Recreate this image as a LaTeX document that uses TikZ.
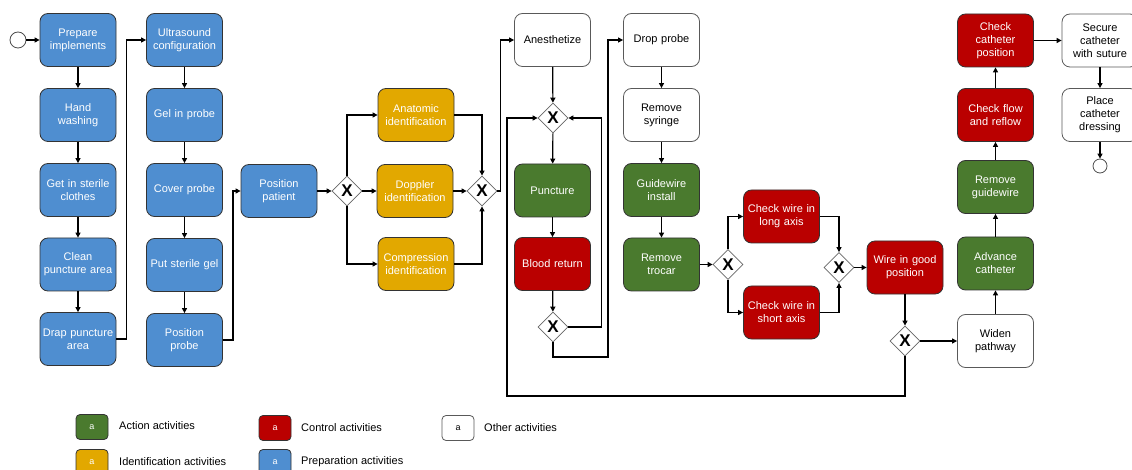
\documentclass[tikz,border=0pt]{standalone}
\usepackage{fontspec}
\setmainfont{Liberation Sans}
\usetikzlibrary{shapes.geometric,arrows.meta}
\definecolor{cblue}{RGB}{79,142,208}
\definecolor{cyel}{RGB}{226,168,0}
\definecolor{cgreen}{RGB}{74,122,46}
\definecolor{cred}{RGB}{186,0,0}
\definecolor{cborder}{RGB}{51,51,51}
\tikzset{
  act/.style={draw=cborder, line width=0.8pt, rounded corners=8pt, minimum width=76pt, minimum height=53pt,
    text width=74pt, align=center, inner sep=1pt, font=\fontsize{11}{13}\selectfont},
  prepbox/.style={act, fill=cblue, text=white},
  idbox/.style={act, fill=cyel, text=white},
  actbox/.style={act, fill=cgreen, text=white},
  ctrlbox/.style={act, fill=cred, text=white},
  othbox/.style={act, fill=white, text=black, draw=black!65},
  gate/.style={diamond, shape aspect=1, draw=black!60, fill=white, line width=0.8pt, minimum width=30pt, minimum height=30pt,
    inner sep=0pt, font=\bfseries\fontsize{17}{17}\selectfont},
  evt/.style={circle, draw=black!70, fill=white, line width=0.8pt, inner sep=0pt},
  arr/.style={line width=1.2pt, -{Triangle[length=5pt,width=5pt]}},
  legbox/.style={draw=cborder, line width=0.8pt, rounded corners=4pt, minimum width=32pt, minimum height=25pt,
    inner sep=0pt, font=\fontsize{9}{9}\selectfont},
  legtxt/.style={anchor=west, inner sep=0pt, font=\fontsize{11}{13}\selectfont}
}
\begin{document}
\begin{tikzpicture}[x=1pt, y=-1pt]
\useasboundingbox (0,0) rectangle (1132,470);
% column 1
\node[evt, minimum size=16pt] (start) at (18,40) {};
\node[prepbox] (prep) at (78,40) {Prepare\\implements};
\node[prepbox] (hand) at (78,115) {Hand\\washing};
\node[prepbox] (sterile) at (78,190) {Get in sterile\\clothes};
\node[prepbox] (clean) at (78,264.5) {Clean\\puncture area};
\node[prepbox] (drap) at (78,339) {Drap puncture\\area};
% column 2
\node[prepbox] (ultra) at (184.5,40) {Ultrasound\\configuration};
\node[prepbox] (gel) at (184.5,115) {Gel in probe};
\node[prepbox] (cover) at (184.5,190) {Cover probe};
\node[prepbox] (putgel) at (184.5,265) {Put sterile gel};
\node[prepbox] (posprobe) at (184.5,340) {Position\\probe};
% position patient and identification
\node[prepbox] (pospat) at (279,191) {Position\\patient};
\node[gate] (g1) at (347,191) {X};
\node[idbox] (anat) at (416,115) {Anatomic\\identification};
\node[idbox] (dopp) at (415,191) {Doppler\\identification};
\node[idbox] (comp) at (416,264) {Compression\\identification};
\node[gate] (g2) at (482,191) {X};
% puncture column
\node[othbox] (anest) at (552.5,40) {Anesthetize};
\node[gate] (g3) at (553,118) {X};
\node[actbox] (punct) at (552.5,190.5) {Puncture};
\node[ctrlbox] (blood) at (552.5,264) {Blood return};
\node[gate] (g4) at (553,327) {X};
% drop probe column
\node[othbox] (drop) at (661.5,40) {Drop probe};
\node[othbox] (syr) at (661.5,115) {Remove\\syringe};
\node[actbox] (guide) at (661.5,190) {Guidewire\\install};
\node[actbox] (troc) at (661.5,264.5) {Remove\\trocar};
\node[gate] (g6) at (728,264.5) {X};
\node[ctrlbox] (longax) at (781.5,216.5) {Check wire in\\long axis};
\node[ctrlbox] (shortax) at (781.5,312.5) {Check wire in\\short axis};
\node[gate] (g7) at (839,267.5) {X};
\node[ctrlbox] (wire) at (905,267.5) {Wire in good\\position};
\node[gate] (g5) at (905,341) {X};
% right column
\node[othbox] (widen) at (995.5,341) {Widen\\pathway};
\node[actbox] (adv) at (995.5,263.5) {Advance\\catheter};
\node[actbox] (remg) at (995.5,187) {Remove\\guidewire};
\node[ctrlbox] (flow) at (995.5,115) {Check flow\\and reflow};
\node[ctrlbox] (ccath) at (995.5,40.5) {Check\\catheter\\position};
\node[othbox] (secure) at (1100,40.5) {Secure\\catheter\\with suture};
\node[othbox] (place) at (1100,115) {Place\\catheter\\dressing};
\node[evt, minimum size=14pt] (end) at (1100,166) {};
% helper coordinates
\coordinate (c1) at (608,357);
\coordinate (c2) at (507,396);
% connectors
\draw[arr] (start) -- (prep);
\draw[arr] (prep) -- (hand);
\draw[arr] (hand) -- (sterile);
\draw[arr] (sterile) -- (clean);
\draw[arr] (clean) -- (drap);
\draw[arr] (drap.east) -- ++(10,0) |- (ultra.west);
\draw[arr] (ultra) -- (gel);
\draw[arr] (gel) -- (cover);
\draw[arr] (cover) -- (putgel);
\draw[arr] (putgel) -- (posprobe);
\draw[arr] (posprobe.east) -- ++(10,0) |- (pospat.west);
\draw[arr] (pospat) -- (g1);
\draw[arr] (g1.north) |- (anat.west);
\draw[arr] (g1) -- (dopp);
\draw[arr] (g1.south) |- (comp.west);
\draw[arr] (anat.east) -| (g2.north);
\draw[arr] (dopp) -- (g2);
\draw[arr] (comp.east) -| (g2.south);
\draw[arr] (g2.east) -- ++(3,0) |- (anest.west);
\draw[arr] (anest) -- (g3);
\draw[arr] (g3) -- (punct);
\draw[arr] (punct) -- (blood);
\draw[arr] (blood) -- (g4);
\draw[arr] (g4.east) -- ++(33,0) |- (g3.east);
\draw[arr] (g4.south) |- (c1) |- (drop.west);
\draw[arr] (drop) -- (syr);
\draw[arr] (syr) -- (guide);
\draw[arr] (guide) -- (troc);
\draw[arr] (troc) -- (g6);
\draw[arr] (g6.north) |- (longax.west);
\draw[arr] (g6.south) |- (shortax.west);
\draw[arr] (longax.east) -| (g7.north);
\draw[arr] (shortax.east) -| (g7.south);
\draw[arr] (g7) -- (wire);
\draw[arr] (wire) -- (g5);
\draw[arr] (g5) -- (widen);
\draw[arr] (g5.south) |- (c2) |- (g3.west);
\draw[arr] (widen) -- (adv);
\draw[arr] (adv) -- (remg);
\draw[arr] (remg) -- (flow);
\draw[arr] (flow) -- (ccath);
\draw[arr] (ccath) -- (secure);
\draw[arr] (secure) -- (place);
\draw[arr] (place) -- (end);
% legend
\node[legbox, fill=cgreen, text=white] (lg) at (92,427) {a};
\node[legtxt] (lgt) at (119,426) {Action activities};
\node[legbox, fill=cred, text=white] (lr) at (275,428) {a};
\node[legtxt] (lrt) at (301,428) {Control activities};
\node[legbox, fill=white, draw=black!65] (lw) at (458,428) {a};
\node[legtxt] (lwt) at (484,428) {Other activities};
\node[legbox, fill=cyel, text=white] (ly) at (92,462) {a};
\node[legtxt] (lyt) at (119,462) {Identification activities};
\node[legbox, fill=cblue, text=white] (lb) at (275,462) {a};
\node[legtxt] (lbt) at (301,462) {Preparation activities};
\end{tikzpicture}
\end{document}
